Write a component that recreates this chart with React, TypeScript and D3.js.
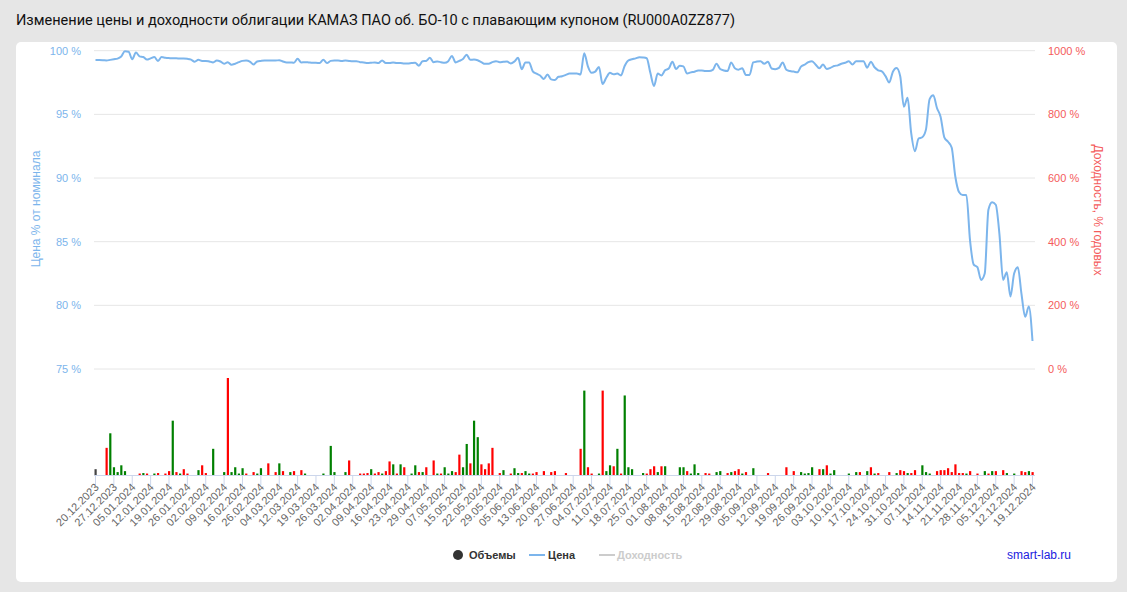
import React from 'react';
import * as d3 from 'd3';

const tickDates = [
  '20.12.2023','27.12.2023','05.01.2024','12.01.2024','19.01.2024','26.01.2024','02.02.2024','09.02.2024',
  '16.02.2024','26.02.2024','04.03.2024','12.03.2024','19.03.2024','26.03.2024','02.04.2024','09.04.2024',
  '16.04.2024','23.04.2024','29.04.2024','07.05.2024','15.05.2024','22.05.2024','29.05.2024','05.06.2024',
  '13.06.2024','20.06.2024','27.06.2024','04.07.2024','11.07.2024','18.07.2024','25.07.2024','01.08.2024',
  '08.08.2024','15.08.2024','22.08.2024','29.08.2024','05.09.2024','12.09.2024','19.09.2024','26.09.2024',
  '03.10.2024','10.10.2024','17.10.2024','24.10.2024','31.10.2024','07.11.2024','14.11.2024','21.11.2024',
  '28.11.2024','05.12.2024','12.12.2024','19.12.2024'
];
const tickStep = 5;

const price = [
  99.26, 99.26, 99.25, 99.23, 99.28, 99.33, 99.38, 99.55, 99.95, 99.92,
  99.33, 99.85, 99.55, 99.5, 99.3, 99.4, 99.5, 99.2, 99.5, 99.45,
  99.42, 99.4, 99.4, 99.38, 99.38, 99.36, 99.3, 99.13, 99.28, 99.2,
  99.2, 99.15, 99.08, 99.23, 99.15, 98.97, 99.1, 98.9, 98.98, 99.1,
  99.2, 99.23, 99.15, 98.92, 99.15, 99.2, 99.23, 99.23, 99.23, 99.23,
  99.25, 99.15, 99.08, 99.08, 99.05, 99.36, 99.08, 99.1, 99.08, 99.05,
  99.05, 99.03, 99.28, 99.03, 99.2, 99.23, 99.23, 99.2, 99.23, 99.2,
  99.18, 99.18, 99.1, 99.08, 99.03, 99.05, 99.08, 99.03, 99.23, 99.03,
  99.03, 99.08, 99.03, 99.03, 99.0, 99.0, 99.03, 99.05, 98.82, 99.18,
  99.2, 99.44, 99.1, 99.15, 99.1, 99.05, 99.18, 99.59, 99.08, 99.2,
  99.35, 99.69, 99.28, 99.3, 99.25, 99.1, 98.97, 98.97, 99.1, 99.18,
  99.1, 99.13, 99.15, 99.0, 99.15, 99.44, 98.55, 99.08, 99.08, 98.38,
  98.2, 98.05, 97.78, 98.13, 97.75, 97.7, 97.95, 98.0, 98.1, 98.2,
  98.2, 98.2, 98.13, 99.8, 98.77, 98.26, 98.36, 98.72, 97.38, 97.87,
  98.26, 98.15, 98.2, 98.05, 98.8, 99.23, 99.33, 99.4, 99.49, 99.47,
  99.41, 98.26, 97.23, 98.2, 98.05, 98.46, 98.6, 99.13, 98.56, 98.82,
  98.77, 98.2, 98.3, 98.35, 98.45, 98.45, 98.41, 98.41, 98.5, 98.97,
  98.56, 98.45, 98.41, 99.08, 98.62, 98.51, 98.62, 98.1, 98.1, 99.08,
  99.15, 99.18, 98.97, 99.13, 98.6, 98.55, 98.65, 99.08, 98.51, 98.4,
  98.36, 98.3, 98.75, 98.9, 99.1, 99.18, 98.9, 98.62, 98.92, 98.56,
  98.65, 98.8, 98.85, 98.97, 99.05, 99.18, 98.92, 99.18, 99.18, 99.18,
  98.67, 99.13, 98.7, 98.46, 98.38, 98.0, 97.5, 98.35, 98.64, 98.0,
  95.6, 96.3, 93.5, 92.1, 93.1, 93.2, 93.8, 96.2, 96.5, 95.5,
  94.8, 93.2, 92.85, 92.4, 90.1, 88.9, 88.66, 88.66, 85.1, 83.2,
  83.0, 82.0, 82.5, 87.5, 88.1, 87.9, 85.6, 82.0, 82.6, 80.7,
  82.5, 83.0, 80.9, 79.1, 79.9, 77.2
];

// volume bars: trading-day index, relative volume, side (k = first, g = up, r = down)
const volDay = [
  0,3,4,5,6,7,8,12,13,14,16,17,19,20,21,22,23,24,25,28,29,30,32,35,36,37,38,39,40,41,43,44,45,47,49,50,51,53,54,56,57,
  62,64,65,68,69,72,73,74,75,76,77,78,79,80,81,82,83,84,86,87,88,89,90,92,93,94,95,96,97,98,99,100,101,102,103,104,
  105,106,107,108,110,111,113,114,115,116,117,118,119,120,122,124,125,128,132,133,134,135,137,138,139,140,141,142,143,
  144,145,146,149,150,151,152,153,154,155,159,160,161,162,163,164,166,167,169,170,172,173,174,175,176,177,179,183,188,
  190,192,193,194,195,197,198,199,200,201,205,207,208,210,211,212,213,216,218,219,220,221,222,223,225,226,227,229,230,
  231,232,233,234,235,236,237,238,240,242,243,244,245,247,248,250,252,253,254,255
];
const volAmount = [
  6,28,43,8,3,10,4,1.5,2,1.5,1.5,2,1.5,4,56,3,1.5,6,1.5,5,10,2,27,3,100,3,8,1.5,7,1.5,3,1.5,7,12,3,12,4,3,4,5,1.5,
  1.5,30,3,3,15,1.5,1.5,2,6,1.5,3,1.5,4,14,11,1.5,11,8,1.5,10,3,3,8,15,1.5,1.5,8,1.5,4,3,21,8,32,12,56,39,
  11,6,12,28,2,5,1.5,7,2,2,4,1.5,1.5,3,4,3,4,2,27,87,8,1.5,1.5,87,4,10,9,27,1.5,
  82,8,6,2,1.5,6,9,3,9,9,8,8,4,1.5,11,2,2,1.5,3,4,2,3,4,6,1.5,3,7,2,8,
  4,3,1.5,2,8,6,6,10,1.5,5,1.5,3,3,4,8,1.5,2,3,2,5,4,2,2,5,10,3,1.5,4,5,
  5,7,3,11,2,2,1.5,4,1.5,4,1.5,4,4,5,2,1.5,4,3,4,3
];
const volSide = [
  'k','r','g','g','g','g','g','r','g','r','g','r','r','r','g','r','g','r','r','g','r','r','g','g','r','g','g','g','g','r','r','g','g','r','r','g','r','g','r','r','g',
  'g','g','g','g','r','r','r','r','g','r','r','g','r','r','g','r','g','r','g','g','r','g','r','r','g','r','g','g','g','r','r','g','g','r','g','g',
  'r','r','r','r','r','g','r','g','g','r','g','g','r','r','r','r','r','r','r','g','r','r','g','r','g','g','r','g','r',
  'g','g','g','g','r','r','r','g','r','g','g','g','r','g','g','g','r','r','g','g','r','g','r','r','g','r','g','r','r',
  'r','g','g','g','g','r','g','r','g','g','g','g','r','g','r','g','r','r','g','r','r','g','r','r','g','g','g','r','r',
  'r','r','r','r','r','r','g','r','r','g','r','g','r','r','g','g','r','r','g','r'
];

const priceTicks = [75, 80, 85, 90, 95, 100];
const yieldTicks = [0, 200, 400, 600, 800, 1000];

const sideColor: Record<string, string> = { k: '#444444', g: '#008000', r: '#ff0000' };

export default function App() {
  const W = 1127, H = 592;
  const left = 94, right = 1035;
  const x = d3.scaleLinear().domain([0, price.length - 1]).range([95.5, 1032.5]);
  const yP = d3.scaleLinear().domain([75, 100]).range([369, 50.7]);
  const yY = d3.scaleLinear().domain([0, 1000]).range([369, 50.7]);
  const yV = d3.scaleLinear().domain([0, 100]).range([475, 378]);
  const line = d3.line<number>().x((_, i) => x(i)).y(d => yP(d)).curve(d3.curveMonotoneX);
  const font = '"Liberation Sans", Arial, sans-serif';

  return (
    <svg width={W} height={H} style={{ position: 'absolute', left: 0, top: 0, fontFamily: font }}>
      <rect x={0} y={0} width={W} height={H} fill="#e6e6e6" />
      <text x={16} y={25} fontFamily="Roboto, sans-serif" fontSize={15} fontWeight={400} fill="#111"
        textLength={719} lengthAdjust="spacingAndGlyphs">
        Изменение цены и доходности облигации КАМАЗ ПАО об. БО-10 с плавающим купоном (RU000A0ZZ877)
      </text>
      <rect x={16} y={42} width={1101} height={540} rx={5} fill="#ffffff" />

      {priceTicks.map(t => (
        <g key={'g' + t}>
          <line x1={left} x2={right} y1={yP(t)} y2={yP(t)} stroke="#e6e6e6" strokeWidth={1} />
          <text x={81} y={yP(t) + 4} textAnchor="end" fontSize={11} fill="#7cb5ec">{t} %</text>
        </g>
      ))}
      {yieldTicks.map(t => (
        <text key={'y' + t} x={1048} y={yY(t) + 4} fontSize={11} fill="#f45b5b">{t} %</text>
      ))}
      <text transform={`translate(40,209) rotate(-90)`} textAnchor="middle" fontSize={12} fill="#7cb5ec">Цена % от номинала</text>
      <text transform={`translate(1094,210) rotate(90)`} textAnchor="middle" fontSize={12} fill="#f45b5b">Доходность, % годовых</text>

      {volDay.map((d, k) => (
        <rect key={'v' + k} x={x(d) - 1} y={yV(volAmount[k])} width={2.2} height={yV(0) - yV(volAmount[k])}
          fill={sideColor[volSide[k]]} />
      ))}

      <line x1={left} x2={right} y1={475.5} y2={475.5} stroke="#ccd6eb" strokeWidth={1} />
      {tickDates.map((lab, k) => {
        const tx = x(k * tickStep);
        return (
          <g key={'t' + k}>
            <line x1={tx} x2={tx} y1={475} y2={485} stroke="#ccd6eb" strokeWidth={1} />
            <text transform={`translate(${tx + 4},488) rotate(-45)`} textAnchor="end" fontSize={11} fill="#666">{lab}</text>
          </g>
        );
      })}

      <path d={line(price) || ''} fill="none" stroke="#7cb5ec" strokeWidth={2} strokeLinejoin="round" />

      <circle cx={458} cy={555} r={5} fill="#333" />
      <text x={469} y={559} fontSize={11} fontWeight="bold" fill="#333">Объемы</text>
      <line x1={529} x2={545} y1={555} y2={555} stroke="#7cb5ec" strokeWidth={2} />
      <text x={548} y={559} fontSize={11} fontWeight="bold" fill="#333">Цена</text>
      <line x1={599} x2={615} y1={555} y2={555} stroke="#cccccc" strokeWidth={2} />
      <text x={617} y={559} fontSize={11} fontWeight="bold" fill="#cccccc">Доходность</text>
      <text x={1007} y={559} fontSize={12} fill="#2020e0">smart-lab.ru</text>
    </svg>
  );
}
